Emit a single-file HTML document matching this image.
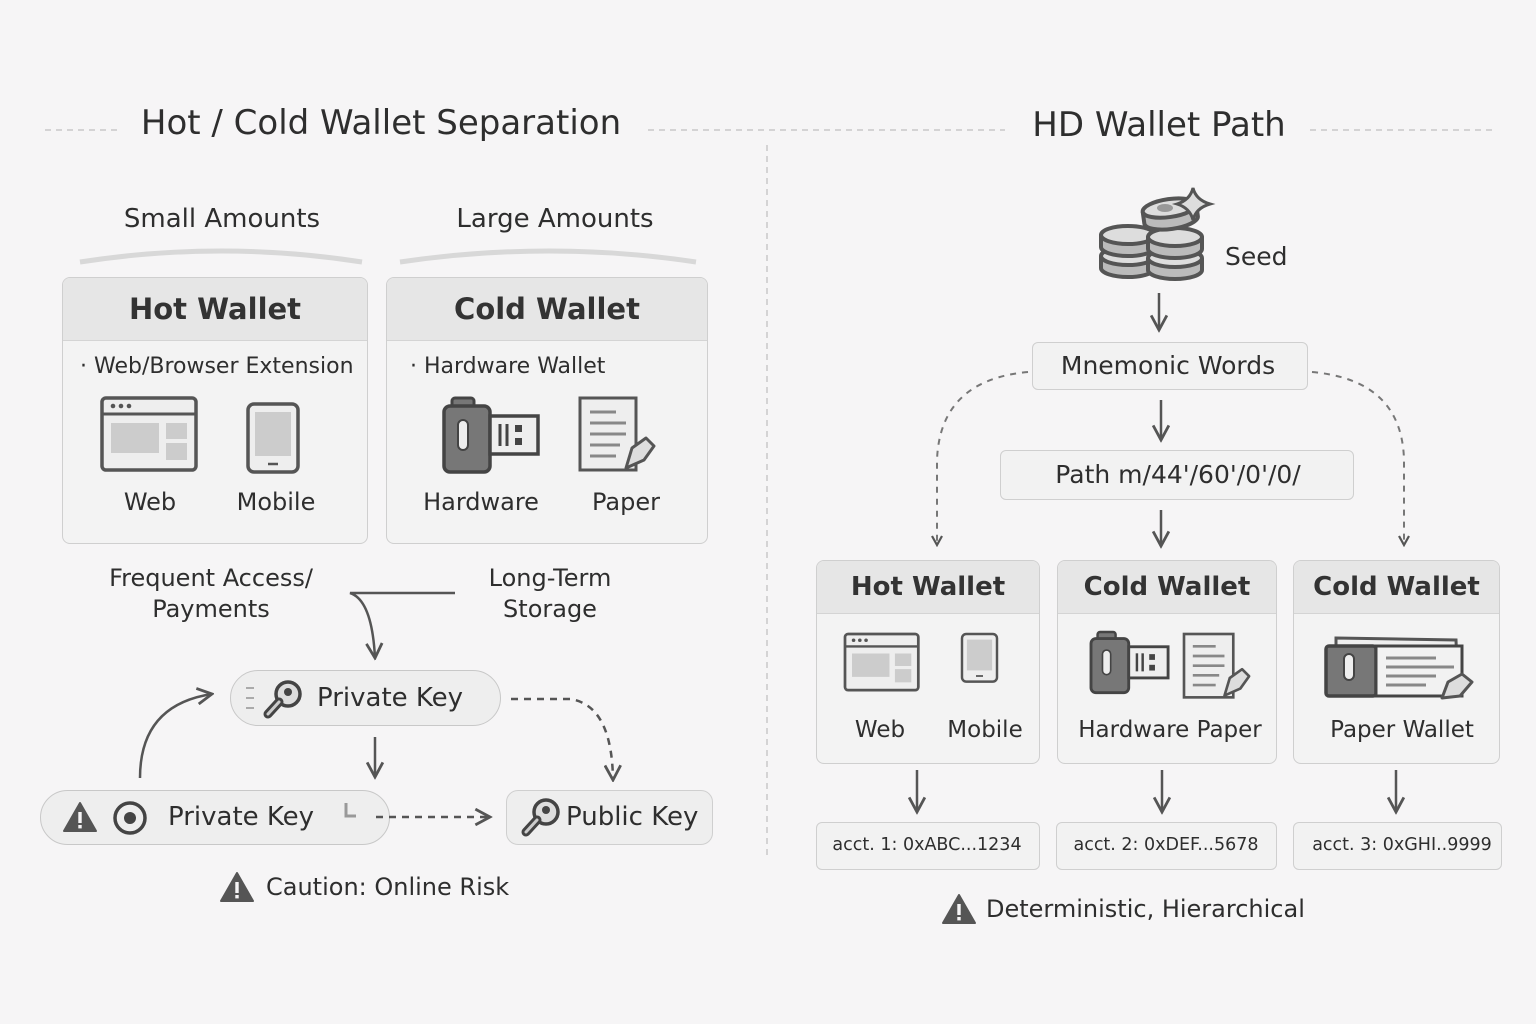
<!DOCTYPE html>
<html><head><meta charset="utf-8">
<style>
*{margin:0;padding:0;box-sizing:border-box}
body{width:1536px;height:1024px;background:#f6f5f6;position:relative;overflow:hidden;font-family:"DejaVu Sans","Liberation Sans",sans-serif;color:#2e2e2e}
.t{position:absolute;white-space:nowrap;line-height:1}
.c{transform:translateX(-50%)}
.box{position:absolute;border:1.5px solid #cfcfcf;background:#f3f3f3;border-radius:8px;overflow:hidden}
.hdr{background:#e6e6e6;border-bottom:1.5px solid #d4d4d4;text-align:center;font-weight:bold;color:#333}
.pill{position:absolute;border:1.5px solid #c8c8c8;background:#eeeeee;border-radius:28px}
.rb{position:absolute;border:1.5px solid #cfcfcf;background:#f2f2f2;border-radius:6px}
svg{position:absolute;left:0;top:0}
</style></head><body>

<!-- titles -->
<div class="t c" style="left:381px;top:106px;font-size:34px">Hot / Cold Wallet Separation</div>
<div class="t c" style="left:1159px;top:108px;font-size:34px">HD Wallet Path</div>
<div class="t c" style="left:222px;top:206px;font-size:26px">Small Amounts</div>
<div class="t c" style="left:555px;top:206px;font-size:26px">Large Amounts</div>

<!-- left boxes -->
<div class="box" style="left:62px;top:277px;width:306px;height:267px">
  <div class="hdr" style="height:63px;line-height:62px;font-size:29px">Hot Wallet</div>
</div>
<div class="box" style="left:386px;top:277px;width:322px;height:267px">
  <div class="hdr" style="height:63px;line-height:62px;font-size:29px">Cold Wallet</div>
</div>
<div class="t" style="left:80px;top:356px;font-size:22px">· Web/Browser Extension</div>
<div class="t" style="left:410px;top:356px;font-size:22px">· Hardware Wallet</div>
<div class="t c" style="left:150px;top:490px;font-size:24px">Web</div>
<div class="t c" style="left:276px;top:490px;font-size:24px">Mobile</div>
<div class="t c" style="left:481px;top:490px;font-size:24px">Hardware</div>
<div class="t c" style="left:626px;top:490px;font-size:24px">Paper</div>

<div class="t c" style="left:211px;top:563px;font-size:24px;text-align:center;line-height:31px">Frequent Access/<br>Payments</div>
<div class="t c" style="left:550px;top:563px;font-size:24px;text-align:center;line-height:31px">Long-Term<br>Storage</div>

<div class="pill" style="left:230px;top:670px;width:271px;height:56px"></div>
<div class="t" style="left:317px;top:685px;font-size:26px">Private Key</div>
<div class="pill" style="left:40px;top:790px;width:350px;height:55px"></div>
<div class="t" style="left:168px;top:804px;font-size:26px">Private Key</div>
<div class="rb" style="left:506px;top:790px;width:207px;height:55px;border-radius:12px;background:#eeeeee"></div>
<div class="t" style="left:566px;top:804px;font-size:26px">Public Key</div>
<div class="t" style="left:266px;top:875px;font-size:24px">Caution: Online Risk</div>

<!-- right -->
<div class="t" style="left:1225px;top:244px;font-size:25px">Seed</div>
<div class="rb" style="left:1032px;top:342px;width:276px;height:48px"></div>
<div class="t c" style="left:1168px;top:353px;font-size:25px">Mnemonic Words</div>
<div class="rb" style="left:1000px;top:450px;width:354px;height:50px"></div>
<div class="t c" style="left:1178px;top:462px;font-size:25px">Path m/44'/60'/0'/0/</div>

<div class="box" style="left:816px;top:560px;width:224px;height:204px">
  <div class="hdr" style="height:53px;line-height:52px;font-size:26px">Hot Wallet</div>
</div>
<div class="box" style="left:1057px;top:560px;width:220px;height:204px">
  <div class="hdr" style="height:53px;line-height:52px;font-size:26px">Cold Wallet</div>
</div>
<div class="box" style="left:1293px;top:560px;width:207px;height:204px">
  <div class="hdr" style="height:53px;line-height:52px;font-size:26px">Cold Wallet</div>
</div>
<div class="t c" style="left:880px;top:719px;font-size:23px">Web</div>
<div class="t c" style="left:985px;top:719px;font-size:23px">Mobile</div>
<div class="t c" style="left:1170px;top:719px;font-size:23px">Hardware&nbsp;Paper</div>
<div class="t c" style="left:1402px;top:719px;font-size:23px">Paper Wallet</div>

<div class="rb" style="left:816px;top:822px;width:224px;height:48px"></div>
<div class="t c" style="left:927px;top:837px;font-size:17.5px">acct. 1: 0xABC...1234</div>
<div class="rb" style="left:1056px;top:822px;width:221px;height:48px"></div>
<div class="t c" style="left:1166px;top:837px;font-size:17.5px">acct. 2: 0xDEF...5678</div>
<div class="rb" style="left:1293px;top:822px;width:209px;height:48px"></div>
<div class="t c" style="left:1402px;top:837px;font-size:17.5px">acct. 3: 0xGHI..9999</div>
<div class="t" style="left:986px;top:897px;font-size:24px">Deterministic, Hierarchical</div>

<svg width="1536" height="1024" viewBox="0 0 1536 1024">
<defs>
<marker id="a" viewBox="0 0 12 12" refX="10" refY="6" markerWidth="12" markerHeight="12" markerUnits="userSpaceOnUse" orient="auto"><path d="M1 1 L10 6 L1 11" fill="none" stroke="#555" stroke-width="2.2"/></marker>
<marker id="b" viewBox="0 0 16 16" refX="14" refY="8" markerWidth="18" markerHeight="18" markerUnits="userSpaceOnUse" orient="auto"><path d="M1 1 L14 8 L1 15" fill="none" stroke="#555" stroke-width="2.5"/></marker>
<g id="warn"><path d="M0 -15 L16 13 L-16 13 Z" fill="#555" stroke="#555" stroke-width="2" stroke-linejoin="round"/><rect x="-1.7" y="-6" width="3.4" height="11" fill="#f6f5f6"/><rect x="-1.7" y="7" width="3.4" height="3.4" fill="#f6f5f6"/></g>
<g id="key"><circle cx="6" cy="-6" r="12" fill="#ddd" stroke="#444" stroke-width="3.5"/><circle cx="6" cy="-8" r="4" fill="#444"/><path d="M-3 2 L-14 14" stroke="#444" stroke-width="9" stroke-linecap="round"/><path d="M-3 2 L-14 14" stroke="#ccc" stroke-width="3" stroke-linecap="round"/></g>
<g id="web"><rect x="0" y="0" width="94" height="72" rx="4" fill="#eee" stroke="#555" stroke-width="3.5"/><line x1="0" y1="16" x2="94" y2="16" stroke="#555" stroke-width="3"/><circle cx="11" cy="8" r="2.3" fill="#555"/><circle cx="19" cy="8" r="2.3" fill="#555"/><circle cx="27" cy="8" r="2.3" fill="#555"/><rect x="9" y="25" width="48" height="30" fill="#ccc"/><rect x="64" y="25" width="21" height="16" fill="#ccc"/><rect x="64" y="45" width="21" height="17" fill="#ccc"/></g>
<g id="mob"><rect x="0" y="0" width="50" height="68" rx="6" fill="#eee" stroke="#555" stroke-width="3.5"/><rect x="7" y="8" width="36" height="44" fill="#ccc"/><line x1="20" y1="60" x2="30" y2="60" stroke="#555" stroke-width="2.5"/></g>
<g id="hw"><rect x="8" y="0" width="22" height="12" rx="3" fill="#777" stroke="#444" stroke-width="3"/><rect x="0" y="8" width="46" height="66" rx="6" fill="#777" stroke="#444" stroke-width="3.5"/><rect x="14" y="22" width="10" height="30" rx="5" fill="#eee" stroke="#444" stroke-width="2"/><rect x="46" y="18" width="48" height="38" fill="#eee" stroke="#444" stroke-width="3.5"/><line x1="56" y1="26" x2="56" y2="48" stroke="#444" stroke-width="3"/><line x1="63" y1="26" x2="63" y2="48" stroke="#444" stroke-width="3"/><rect x="71" y="27" width="7" height="7" fill="#444"/><rect x="71" y="40" width="7" height="7" fill="#444"/></g>
<g id="pap"><rect x="0" y="0" width="56" height="72" fill="#eee" stroke="#555" stroke-width="3"/><g stroke="#888" stroke-width="3"><line x1="10" y1="14" x2="36" y2="14"/><line x1="10" y1="25" x2="46" y2="25"/><line x1="10" y1="36" x2="46" y2="36"/><line x1="10" y1="47" x2="40" y2="47"/><line x1="10" y1="58" x2="36" y2="58"/></g><path d="M46 70 L52 50 L66 40 L74 48 L64 62 Z" fill="#ddd" stroke="#555" stroke-width="3" stroke-linejoin="round"/></g>
<g id="disk"><path d="M-27 0 L-27 12 A27 9 0 0 0 27 12 L27 0" fill="#bbb" stroke="#555" stroke-width="4"/><ellipse cx="0" cy="0" rx="27" ry="9" fill="#ddd" stroke="#555" stroke-width="4"/></g>
</defs>

<!-- title dashes -->
<g stroke="#c8c8c8" stroke-width="1.5" stroke-dasharray="6 5" fill="none">
<line x1="45" y1="130" x2="122" y2="130"/><line x1="648" y1="130" x2="1005" y2="130"/>
<line x1="1310" y1="130" x2="1495" y2="130"/><line x1="767" y1="145" x2="767" y2="855"/>
</g>
<!-- arcs -->
<path d="M80 262 Q222 240 362 262" fill="none" stroke="#d8d8d8" stroke-width="5"/>
<path d="M400 262 Q550 240 696 262" fill="none" stroke="#d8d8d8" stroke-width="5"/>

<!-- left icons -->
<use href="#web" x="102" y="398"/>
<use href="#mob" x="248" y="404"/>
<use href="#hw" x="444" y="398"/>
<use href="#pap" x="580" y="398"/>

<!-- left connectors -->
<g fill="none" stroke="#555" stroke-width="2.5">
<path d="M455 593 L350 593 Q372 600 375 658" marker-end="url(#b)"/>
<line x1="375" y1="737" x2="375" y2="777" marker-end="url(#b)"/>
<path d="M140 778 Q140 705 212 694" marker-end="url(#b)"/>
<path d="M511 699 L570 699 Q612 705 613 780" stroke-dasharray="7 6" marker-end="url(#b)"/>
<line x1="376" y1="817" x2="490" y2="817" stroke-dasharray="7 6" marker-end="url(#b)"/>
</g>
<g stroke="#aaa" stroke-width="2"><line x1="246" y1="688" x2="254" y2="688"/><line x1="246" y1="698" x2="254" y2="698"/><line x1="246" y1="708" x2="254" y2="708"/></g>
<use href="#key" x="282" y="700"/>
<use href="#key" x="540" y="818"/>
<use href="#warn" x="80" y="818"/>
<circle cx="130" cy="818" r="15" fill="#eee" stroke="#444" stroke-width="3.5"/><circle cx="130" cy="818" r="6" fill="#444"/>
<path d="M346 803 L346 816 L356 816" fill="none" stroke="#999" stroke-width="3"/>
<use href="#warn" x="237" y="888"/>

<!-- seed coins -->
<use href="#disk" x="1128" y="256"/>
<use href="#disk" x="1128" y="235"/>
<use href="#disk" x="1175" y="258"/>
<use href="#disk" x="1175" y="237"/>
<g transform="rotate(-8 1170 212)"><use href="#disk" x="1170" y="208"/></g>
<ellipse cx="1165" cy="208" rx="8" ry="4" fill="#999"/>
<path d="M1193 188 Q1196 200 1210 204 Q1196 208 1193 220 Q1190 208 1177 204 Q1190 200 1193 188 Z" fill="#ddd" stroke="#555" stroke-width="3"/>

<!-- right connectors -->
<g fill="none" stroke="#555" stroke-width="2.5">
<line x1="1159" y1="293" x2="1159" y2="330" marker-end="url(#b)"/>
<line x1="1161" y1="400" x2="1161" y2="440" marker-end="url(#b)"/>
<line x1="1161" y1="510" x2="1161" y2="546" marker-end="url(#b)"/>
<path d="M1028 372 Q940 380 937 460 L937 545" stroke="#777" stroke-width="2" stroke-dasharray="6 6" marker-end="url(#a)"/>
<path d="M1312 372 Q1402 380 1404 460 L1404 545" stroke="#777" stroke-width="2" stroke-dasharray="6 6" marker-end="url(#a)"/>
<line x1="917" y1="770" x2="917" y2="812" marker-end="url(#b)"/>
<line x1="1162" y1="770" x2="1162" y2="812" marker-end="url(#b)"/>
<line x1="1396" y1="770" x2="1396" y2="812" marker-end="url(#b)"/>
</g>
<!-- right icons -->
<g transform="translate(845,634) scale(0.78)"><use href="#web"/></g>
<g transform="translate(962,634) scale(0.7)"><use href="#mob"/></g>
<g transform="translate(1091,632) scale(0.82)"><use href="#hw"/></g>
<g transform="translate(1184,634) scale(0.88)"><use href="#pap"/></g>
<g transform="translate(1326,632)">
<path d="M10 6 L130 8 L132 62 L10 62 Z" fill="#eee" stroke="#555" stroke-width="3"/>
<rect x="0" y="14" width="50" height="50" rx="3" fill="#777" stroke="#444" stroke-width="3.5"/>
<rect x="18" y="22" width="10" height="26" rx="5" fill="#eee" stroke="#444" stroke-width="2"/>
<rect x="50" y="14" width="86" height="50" fill="#f2f2f2" stroke="#444" stroke-width="3"/>
<g stroke="#888" stroke-width="3"><line x1="60" y1="26" x2="110" y2="26"/><line x1="60" y1="35" x2="128" y2="35"/><line x1="60" y1="44" x2="110" y2="44"/><line x1="60" y1="53" x2="100" y2="53"/></g>
<path d="M116 66 L122 50 L136 42 L146 50 L134 64 Z" fill="#ddd" stroke="#555" stroke-width="3" stroke-linejoin="round"/>
</g>
<use href="#warn" x="959" y="910"/>
</svg>
</body></html>
